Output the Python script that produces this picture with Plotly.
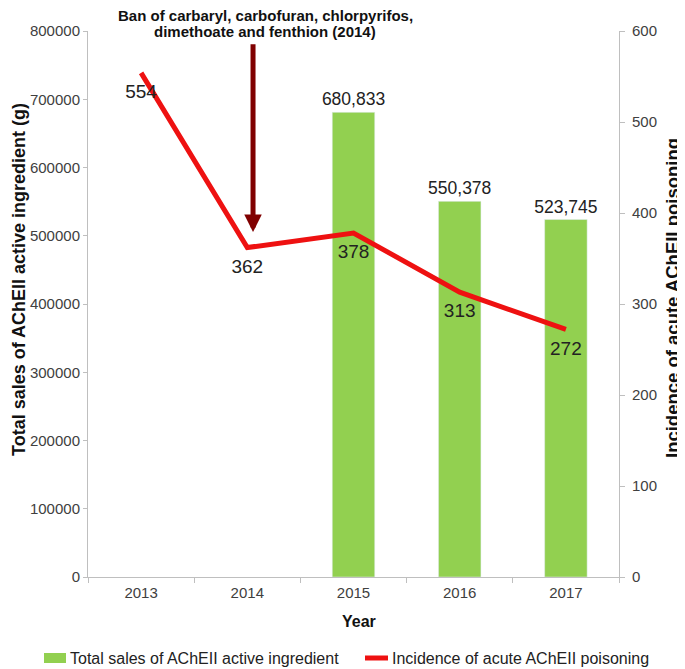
import plotly.graph_objects as go

years = ["2013", "2014", "2015", "2016", "2017"]
sales = [None, None, 680833, 550378, 523745]
sales_labels = ["", "", "680,833", "550,378", "523,745"]
incidence = [554, 362, 378, 313, 272]

sales_name = "Total sales of AChEII active ingredient"
incidence_name = "Incidence of acute AChEII poisoning"
ban_lines = ["Ban of carbaryl, carbofuran, chlorpyrifos,", "dimethoate and fenthion (2014)"]

FONT = "Liberation Sans, Arial, sans-serif"
GREEN = "#92D050"
RED = "#EE1111"

# the page body has an 8px margin, so the figure fills the rest of the window
OFF = 8
W, H = 685 - OFF, 669 - OFF
PX0, PY0, PX1, PY1 = 88, 31, 619, 577     # plot area in page pixels
L, T = PX0 - OFF, PY0 - OFF
R, B = 685 - PX1, 669 - PY1
PW, PH = PX1 - PX0, PY1 - PY0


def px(xp):
    return (xp - PX0) / PW


def py(yp):
    return (PY1 - yp) / PH


fig = go.Figure()
fig.add_trace(go.Bar(
    x=years, y=sales, name=sales_name,
    marker_color=GREEN, width=0.4,
    text=sales_labels, textposition="outside", cliponaxis=False,
    constraintext="none",
    textfont=dict(size=17.5, color="#222222", family=FONT),
))
fig.add_trace(go.Scatter(
    x=years, y=incidence, yaxis="y2", name=incidence_name,
    mode="lines+markers+text", line=dict(color=RED, width=5),
    marker=dict(size=16, color="rgba(0,0,0,0)"),
    text=[str(v) for v in incidence], textposition="bottom center",
    textfont=dict(size=19, color="#222222", family=FONT), cliponaxis=False,
))

# ban arrow at 2014
fig.add_annotation(
    x=1.054, y=379, xref="x", yref="y2",
    ax=1.054, ay=587, axref="x", ayref="y2",
    showarrow=True, arrowhead=2, arrowsize=0.7, arrowwidth=5,
    arrowcolor="#800000", text="",
)
for line_text, yline in zip(ban_lines, [15, 31]):
    fig.add_annotation(
        x=px(265), y=py(yline), xref="paper", yref="paper",
        text="<b>" + line_text + "</b>",
        showarrow=False, font=dict(size=15, color="#111111", family=FONT),
        xanchor="center", yanchor="middle",
    )

# axis titles
fig.add_annotation(
    x=px(19), y=py(280), xref="paper", yref="paper", textangle=-90,
    text="<b>Total sales of AChEII active ingredient (g)</b>", showarrow=False,
    font=dict(size=18, color="#111111", family=FONT),
    xanchor="center", yanchor="middle",
)
fig.add_annotation(
    x=px(672), y=py(298), xref="paper", yref="paper", textangle=-90,
    text="<b>Incidence of acute AChEII poisoning</b>", showarrow=False,
    font=dict(size=18.5, color="#111111", family=FONT),
    xanchor="center", yanchor="middle",
)
fig.add_annotation(
    x=px(359), y=py(621), xref="paper", yref="paper",
    text="<b>Year</b>", showarrow=False,
    font=dict(size=16, color="#111111", family=FONT),
    xanchor="center", yanchor="middle",
)

# legend (single row below the axis title)
LEG_Y = 658
fig.add_shape(type="rect", xref="paper", yref="paper",
              x0=px(44), x1=px(66), y0=py(LEG_Y - 5), y1=py(LEG_Y + 5),
              fillcolor=GREEN, line=dict(width=0))
fig.add_shape(type="line", xref="paper", yref="paper",
              x0=px(365), x1=px(388), y0=py(LEG_Y), y1=py(LEG_Y),
              line=dict(color=RED, width=5))
fig.add_annotation(x=px(68), y=py(LEG_Y), xref="paper", yref="paper",
                   text=sales_name, showarrow=False, xanchor="left", yanchor="middle",
                   font=dict(size=16, color="#222222", family=FONT))
fig.add_annotation(x=px(390), y=py(LEG_Y), xref="paper", yref="paper",
                   text=incidence_name, showarrow=False, xanchor="left", yanchor="middle",
                   font=dict(size=16, color="#222222", family=FONT))

axis_line = "#BFBFBF"
tick_font = dict(size=15, color="#404040", family=FONT)
fig.update_layout(
    width=W, height=H,
    margin=dict(l=L, r=R, t=T, b=B),
    paper_bgcolor="white", plot_bgcolor="white",
    font=dict(family=FONT, color="#333333", size=13),
    showlegend=False,
    xaxis=dict(
        showline=True, linecolor=axis_line, linewidth=1,
        ticks="outside", tickson="boundaries", tickcolor=axis_line, ticklen=5,
        tickfont=tick_font, automargin=False, ticklabelstandoff=2,
        range=[-0.5, 4.5],
    ),
    yaxis=dict(
        range=[0, 800000], dtick=100000, tickformat="d",
        showline=True, linecolor=axis_line, showgrid=False, zeroline=False,
        ticks="outside", tickcolor=axis_line, ticklen=4, automargin=False,
        tickfont=tick_font, ticklabelstandoff=0,
    ),
    yaxis2=dict(
        range=[0, 600], dtick=100, overlaying="y", side="right",
        showline=True, linecolor=axis_line, showgrid=False, zeroline=False,
        ticks="outside", tickcolor=axis_line, ticklen=5, automargin=False,
        tickfont=tick_font, ticklabelstandoff=4,
    ),
)

fig.write_html("out.html")
